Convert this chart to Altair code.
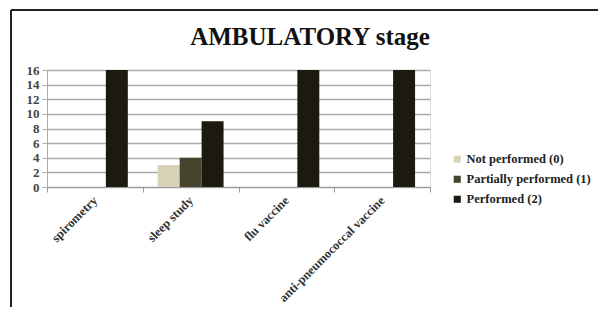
import altair as alt
import pandas as pd

categories = ["spirometry", "sleep study", "flu vaccine", "anti-pneumococcal vaccine"]
series = ["Not performed (0)", "Partially performed (1)", "Performed (2)"]
not_performed = [0, 3, 0, 0]
partially = [0, 4, 0, 0]
performed = [16, 9, 16, 16]
colors = ["#d8d3b6", "#46442f", "#1b1910"]
y_ticks = [0, 2, 4, 6, 8, 10, 12, 14, 16]

rows = []
for i, c in enumerate(categories):
    for s, vals in zip(series, [not_performed, partially, performed]):
        rows.append({"category": c, "series": s, "value": vals[i]})
df = pd.DataFrame(rows)

FONT = "Liberation Serif"

bars = alt.Chart(df).mark_bar().encode(
    x=alt.X("category:N", sort=categories,
            scale=alt.Scale(paddingInner=0, paddingOuter=0),
            axis=alt.Axis(title=None, labelAngle=-45, labelAlign="right", labelBaseline="middle",
                          labelFont=FONT, labelFontSize=12.5, labelFontWeight="bold",
                          labelColor="#333", labelPadding=6,
                          tickBand="extent", ticks=True, tickSize=5, tickColor="#999",
                          domainColor="#999", grid=False)),
    xOffset=alt.XOffset("series:N", sort=series,
                        scale=alt.Scale(paddingInner=0, paddingOuter=0.68)),
    y=alt.Y("value:Q", scale=alt.Scale(domain=[0, 16], nice=False),
            axis=alt.Axis(title=None, values=y_ticks, labelFont=FONT, labelFontSize=13,
                          labelFontWeight="bold", labelColor="#444", gridColor="#aaa",
                          gridWidth=1.5, tickColor="#aaa", tickSize=5, domainColor="#aaa",
                          labelPadding=3)),
    color=alt.Color("series:N", sort=series,
                    scale=alt.Scale(domain=series, range=colors),
                    legend=alt.Legend(title=None, orient="none", legendX=404, legendY=83,
                                      symbolType="square", symbolSize=50, symbolStrokeWidth=0,
                                      labelFont=FONT, labelFontSize=12.5, labelFontWeight="bold",
                                      labelColor="#222", rowPadding=7, labelOffset=3)),
)

border = alt.Chart(pd.DataFrame({"k": [0]})).mark_rule(color="#222", strokeWidth=2).encode(
    x=alt.value(-36), x2=alt.value(560), y=alt.value(-60)
) + alt.Chart(pd.DataFrame({"k": [0]})).mark_rule(color="#222", strokeWidth=2).encode(
    x=alt.value(-36), y=alt.value(-60), y2=alt.value(260)
)

title = alt.Chart(pd.DataFrame({"t": ["AMBULATORY stage"]})).mark_text(
    font=FONT, fontSize=25, fontWeight="bold", color="#111", align="center", baseline="alphabetic"
).encode(x=alt.value(263), y=alt.value(-25), text="t:N")

chart = alt.layer(border, bars, title).properties(
    width=383, height=117,
    padding={"left": 39, "top": 62, "right": 168, "bottom": 120},
    autosize=alt.AutoSizeParams(type="none"),
).configure_view(stroke=None).configure(background="white")

chart.save("out.html", embed_options={"renderer": "svg", "actions": False})
